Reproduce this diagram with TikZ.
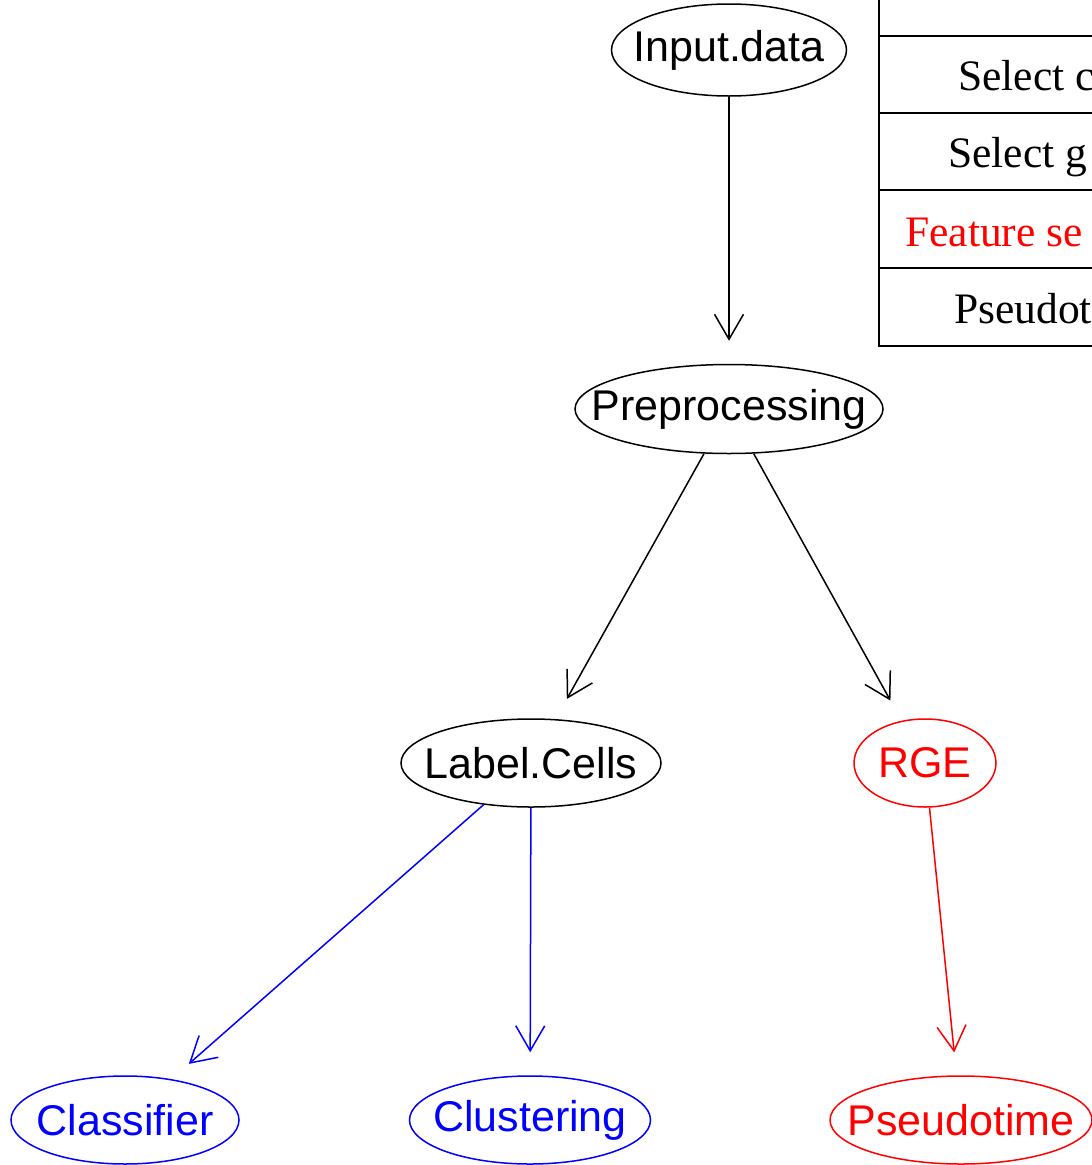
\documentclass[tikz,border=0pt]{standalone}
\usepackage{fontspec}
\setmainfont{Liberation Serif}
\newfontfamily\nodefont{Liberation Sans}
\usetikzlibrary{arrows.meta,shapes.geometric}
\newcommand{\ntxt}[1]{\makebox[0pt]{#1}}
\tikzset{
    >={Straight Barb[length=25pt,width=29pt]},
    gnode/.style 2 args={ellipse,draw,line width=1.5pt,inner sep=0pt,minimum width=#1,minimum height=#2,font=\nodefont\fontsize{43}{50}\selectfont},
    arr/.style={<-,line width=1.5pt,shorten <=23pt},
    tbl/.style={line width=2.5pt,line join=miter},
    tcell/.style={anchor=base west,inner sep=0pt,font=\fontsize{43.5}{50}\selectfont},
}
\begin{document}
\begin{tikzpicture}[x=1pt,y=-1pt]
                \clip (0,0) rectangle (1092,1165);
                \fill[white] (0,0) rectangle (1092,1165);

                % table, cut at the right edge
                \draw[tbl] (1110,346) -- (879,346) -- (879,-10);
                \foreach \y in {36,113,190,268} \draw[tbl] (879,\y) -- (1110,\y);
                \node[tcell] (selc) at (958,90)  {Select c};
                \node[tcell] (selg) at (948,167) {Select g};
                \node[tcell,red] (feat) at (905,246) {Feature se};
                \node[tcell] (pseu) at (954,323) {Pseudot};

                % graph
                \node[gnode={235pt}{92pt}] (input) at (729, 50)  {\ntxt{Input.data}};
                \node[gnode={308pt}{89pt}] (prep) at (729, 409) {\ntxt{Preprocessing}} edge[arr] (input);
                \node[gnode={260pt}{88pt}] (label) at (531, 763) {\ntxt{Label.Cells}} edge[arr] (prep);
                \node[gnode={142pt}{88pt},red] (rge) at (925, 763) {\ntxt{RGE}} edge[arr,black] (prep);

                \node[gnode={228pt}{88pt},blue] (class) at (125, 1120) {\ntxt{Classifier}} edge[arr,blue] (label);
                \node[gnode={241pt}{88pt},blue] (clust) at (530, 1120) {\ntxt{Clustering}} edge[arr,blue] (label);
                \node[gnode={262pt}{88pt},red] (pseudo) at (961, 1120) {\ntxt{Pseudotime}} edge[arr,red] (rge);
\end{tikzpicture}
\end{document}
